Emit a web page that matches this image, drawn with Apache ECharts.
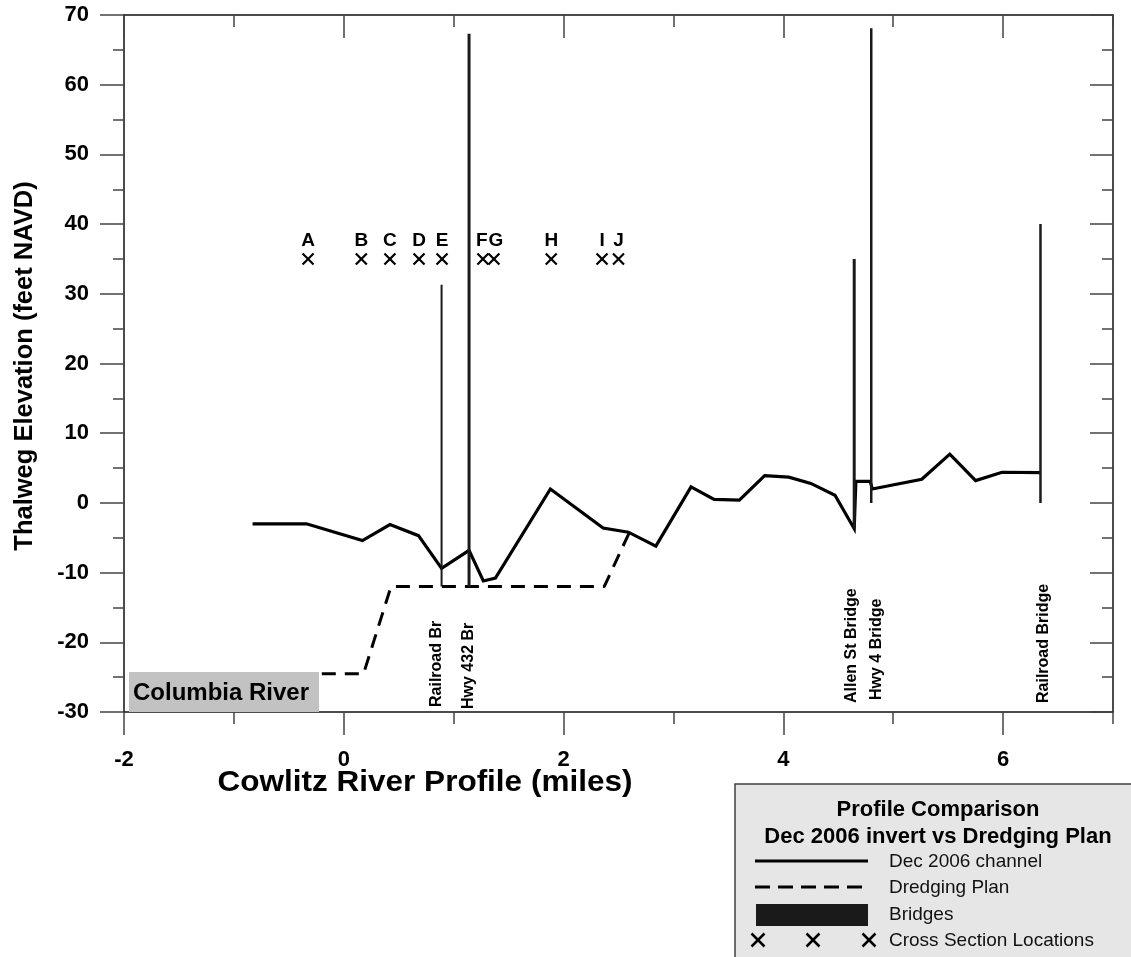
<!DOCTYPE html>
<html><head><meta charset="utf-8">
<script src="https://cdn.jsdelivr.net/npm/echarts@6/dist/echarts.min.js"></script>
<style>html,body{margin:0;padding:0;background:#fff}#c{width:1131px;height:957px}</style>
</head><body><div id="c"></div>
<script>
// ---- data ----
const channelX = [-0.83,-0.34,0.17,0.42,0.68,0.89,1.14,1.27,1.38,1.88,2.36,2.59,2.84,3.16,3.37,3.60,3.83,4.05,4.25,4.47,4.645,4.66,4.79,4.81,5.26,5.515,5.75,5.99,6.34];
const channelY = [-3.0,-3.0,-5.4,-3.1,-4.7,-9.4,-6.8,-11.2,-10.8,2.0,-3.6,-4.2,-6.2,2.3,0.5,0.4,3.9,3.7,2.8,1.1,-3.7,3.1,3.1,2.0,3.4,7.0,3.2,4.4,4.35];
const dredgeX = [-0.2,0.18,0.43,2.37,2.6];
const dredgeY = [-24.5,-24.5,-12,-12,-4.2];
const bridgeNames = ['Railroad Br','Hwy 432 Br','Allen St Bridge','Hwy 4 Bridge','Railroad Bridge'];
const bridgeX = [0.89,1.14,4.645,4.80,6.34];
const bridgeBottom = [-12,-12,-3.7,0,0];
const bridgeTop = [31.3,67.3,35.0,68.1,40.0];
const sectionNames = ['A','B','C','D','E','F','G','H','I','J'];
const sectionX = [-0.325,0.16,0.42,0.685,0.894,1.266,1.366,1.888,2.35,2.50];
const sectionElev = [35,35,35,35,35,35,35,35,35,35];
const xMajorTicks = [-2,0,2,4,6];

// ---- styles ----
const FONT = '"Liberation Sans", Arial, sans-serif';
const bridgeWidth = [2,3,3,2.5,2.5];
const bridgeLabelDx = [-5,0,-3,5,3];
const bridgeLabelLift = [5,3,9,12,9];
const sectionLabelDx = [0,0,0,0,0,-1,2,0,0,0];

const chart = echarts.init(document.getElementById('c'), null, {renderer:'canvas'});
const axisLine = {show:true, onZero:false, lineStyle:{color:'#111', width:1.5}};
const tickStyle = {color:'#444', width:1.5};
const labelStyle = {color:'#000', fontWeight:'bold', fontSize:22, fontFamily:FONT};

function xAx(pos, inside, len, custom, labels){
  return {type:'value', min:-2, max:7, interval:1, position:pos, gridIndex:0,
    axisLine: custom ? {show:false, onZero:false} : axisLine,
    axisTick:{show:true, inside:inside, length:len, lineStyle:tickStyle, customValues: custom || undefined},
    axisLabel: labels ? Object.assign({show:true, margin:37, formatter:v => (v % 2 === 0 ? String(v) : '')}, labelStyle) : {show:false},
    splitLine:{show:false}};
}
function yAx(pos, inside, labels){
  return {type:'value', min:-30, max:70, interval:10, position:pos, gridIndex:0,
    axisLine: axisLine,
    axisTick:{show:true, inside:inside, length: inside ? 23 : 24, lineStyle:tickStyle},
    minorTick:{show:true, splitNumber:2, length:11, lineStyle:tickStyle},
    axisLabel: labels ? Object.assign({show:true, margin:35}, labelStyle) : {show:false},
    splitLine:{show:false}};
}

function cross(cx, cy, s, w){
  return [
    {type:'line', shape:{x1:cx-s, y1:cy-s, x2:cx+s, y2:cy+s}, style:{stroke:'#000', lineWidth:w}, z:12},
    {type:'line', shape:{x1:cx-s, y1:cy+s, x2:cx+s, y2:cy-s}, style:{stroke:'#000', lineWidth:w}, z:12}
  ];
}

const option = {
  animation:false,
  backgroundColor:'#fff',
  grid:{left:124, right:18, top:15, bottom:245, containLabel:false},
  xAxis:[ xAx('bottom', false, 12, null, true), xAx('bottom', false, 23, xMajorTicks, false),
          xAx('top', true, 12, null, false), xAx('top', true, 23, xMajorTicks, false) ],
  yAxis:[ yAx('left', false, true), yAx('right', true, false) ],
  series:[
    {type:'line', name:'Dredging Plan', xAxisIndex:0, yAxisIndex:0, symbol:'none',
     data: dredgeX.map((x,i)=>[x, dredgeY[i]]),
     lineStyle:{color:'#000', width:3, type:[14,9]}, z:3},
    {type:'line', name:'Dec 2006 channel', xAxisIndex:0, yAxisIndex:0, symbol:'none',
     data: channelX.map((x,i)=>[x, channelY[i]]),
     lineStyle:{color:'#000', width:3.2, join:'miter'}, z:4},
    {type:'custom', name:'Bridges', xAxisIndex:0, yAxisIndex:0,
     data: bridgeX.map((x,i)=>[x, bridgeBottom[i], bridgeTop[i]]),
     renderItem:(params, api)=>{
       const i = params.dataIndex;
       const p0 = api.coord([api.value(0), api.value(1)]);
       const p1 = api.coord([api.value(0), api.value(2)]);
       const base = api.coord([api.value(0), -30]);
       const w = bridgeWidth[i];
       return {type:'group', children:[
         {type:'rect', shape:{x:p0[0]-w/2, y:p1[1], width:w, height:p0[1]-p1[1]}, style:{fill:'#1a1a1a'}},
         {type:'text', x:p0[0]+bridgeLabelDx[i], y:base[1]-bridgeLabelLift[i], rotation:Math.PI/2,
          style:{text:bridgeNames[i], fill:'#000', font:'bold 16px '+FONT, align:'left', verticalAlign:'middle'}}
       ]};
     }, z:5},
    {type:'custom', name:'Cross Section Locations', xAxisIndex:0, yAxisIndex:0,
     data: sectionX.map((x,i)=>[x, sectionElev[i]]),
     renderItem:(params, api)=>{
       const i = params.dataIndex;
       const p = api.coord([api.value(0), api.value(1)]);
       const s = 5.5;
       return {type:'group', children:[
         {type:'line', shape:{x1:p[0]-s, y1:p[1]-s, x2:p[0]+s, y2:p[1]+s}, style:{stroke:'#000', lineWidth:2.2}},
         {type:'line', shape:{x1:p[0]-s, y1:p[1]+s, x2:p[0]+s, y2:p[1]-s}, style:{stroke:'#000', lineWidth:2.2}},
         {type:'text', x:p[0]+sectionLabelDx[i], y:p[1]-9, style:{text:sectionNames[i], fill:'#000', font:'bold 19px '+FONT, align:'center', verticalAlign:'bottom'}}
       ]};
     }, z:6}
  ],
  graphic:[
    {type:'rect', left:129, top:672, shape:{width:190, height:40}, style:{fill:'#c2c2c2'}, z:10},
    {type:'text', x:133, y:693, style:{text:'Columbia River', fill:'#000', font:'bold 24px '+FONT, align:'left', verticalAlign:'middle'}, z:11},
    {type:'text', x:25, y:366, rotation:Math.PI/2, style:{text:'Thalweg Elevation (feet NAVD)', fill:'#000', font:'bold 25.5px '+FONT, align:'center', verticalAlign:'middle'}, z:11},
    {type:'text', x:425, y:783, scaleX:1.05, style:{text:'Cowlitz River Profile (miles)', fill:'#000', font:'bold 30px '+FONT, align:'center', verticalAlign:'middle'}, z:11},
    // legend box
    {type:'rect', shape:{x:735, y:784, width:420, height:200}, style:{fill:'#e6e6e6', stroke:'#404040', lineWidth:1.5}, z:10},
    {type:'text', x:938, y:810, style:{text:'Profile Comparison', fill:'#000', font:'bold 22px '+FONT, align:'center', verticalAlign:'middle'}, z:11},
    {type:'text', x:938, y:837, style:{text:'Dec 2006 invert vs Dredging Plan', fill:'#000', font:'bold 22px '+FONT, align:'center', verticalAlign:'middle'}, z:11},
    {type:'line', shape:{x1:755, y1:861, x2:868, y2:861}, style:{stroke:'#000', lineWidth:3}, z:11},
    {type:'text', x:889, y:862, style:{text:'Dec 2006 channel', fill:'#111', font:'19px '+FONT, align:'left', verticalAlign:'middle'}, z:11},
    {type:'line', shape:{x1:755, y1:887, x2:868, y2:887}, style:{stroke:'#000', lineWidth:3, lineDash:[15,8]}, z:11},
    {type:'text', x:889, y:888, style:{text:'Dredging Plan', fill:'#111', font:'19px '+FONT, align:'left', verticalAlign:'middle'}, z:11},
    {type:'rect', shape:{x:756, y:904, width:112, height:22}, style:{fill:'#1a1a1a'}, z:11},
    {type:'text', x:889, y:915, style:{text:'Bridges', fill:'#111', font:'19px '+FONT, align:'left', verticalAlign:'middle'}, z:11},
    ...cross(758, 940, 6.5, 2.5), ...cross(813, 940, 6.5, 2.5), ...cross(869, 940, 6.5, 2.5),
    {type:'text', x:889, y:941, style:{text:'Cross Section Locations', fill:'#111', font:'19px '+FONT, align:'left', verticalAlign:'middle'}, z:11}
  ]
};
chart.setOption(option);
</script>
</body></html>
